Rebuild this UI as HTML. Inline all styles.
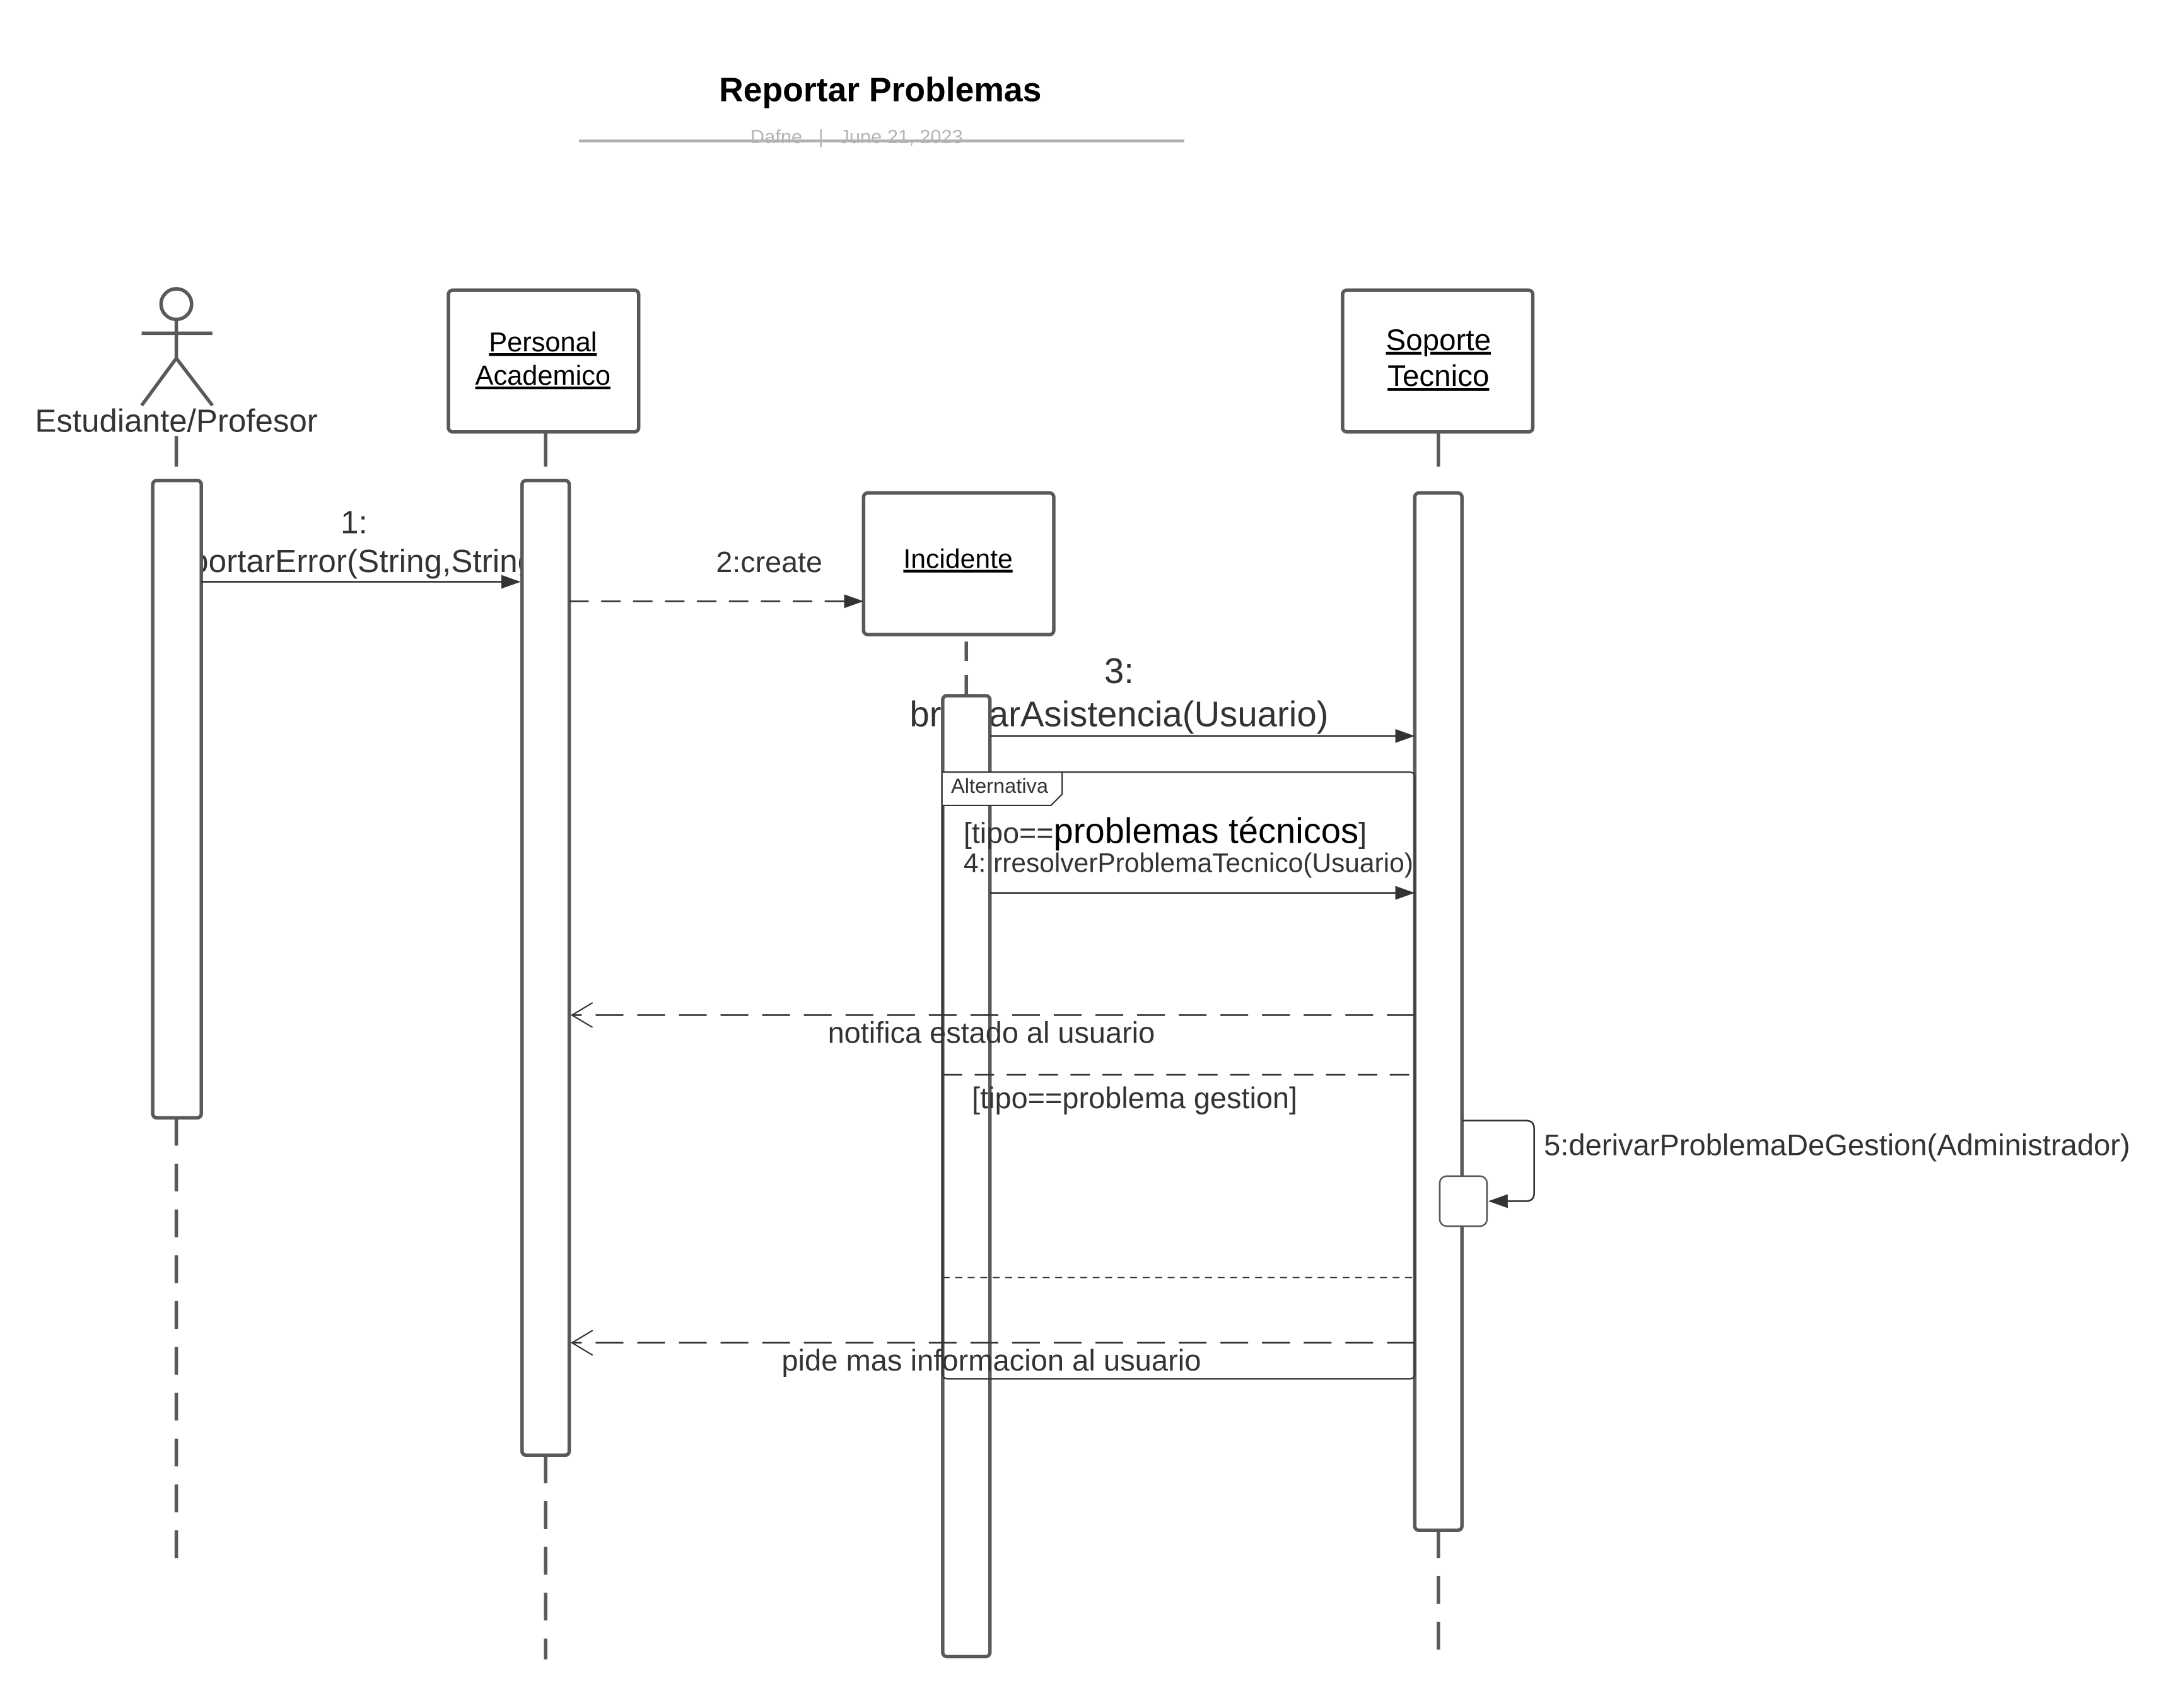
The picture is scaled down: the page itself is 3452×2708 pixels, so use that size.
<!DOCTYPE html>
<html><head><meta charset="utf-8"><style>
html,body{margin:0;padding:0;background:#fff;}
svg{display:block;}
text{font-family:"Liberation Sans",sans-serif;fill:#333;}
</style></head><body>
<svg width="3452" height="2708" viewBox="0 0 1568 1230" preserveAspectRatio="none" xmlns="http://www.w3.org/2000/svg">
<defs>
<marker id="fa" markerWidth="14" markerHeight="10" refX="13" refY="5" orient="auto" markerUnits="userSpaceOnUse">
<path d="M0,0 L14,5 L0,10 Z" fill="#333"/></marker>
<marker id="oa" markerWidth="16" markerHeight="18" refX="15" refY="9" orient="auto" markerUnits="userSpaceOnUse">
<path d="M0,0 L15,9 L0,18" fill="none" stroke="#333" stroke-width="1"/></marker>
</defs>
<rect width="1568" height="1230" fill="#fff"/>
<text x="634" y="73" text-anchor="middle" font-size="24.3" font-weight="bold" style="fill:#000">Reportar Problemas</text>
<line x1="417" y1="101.5" x2="853" y2="101.5" stroke="#b0b0b0" stroke-width="2"/>
<text x="617" y="103" text-anchor="middle" font-size="14" style="fill:#b5b5b5" xml:space="preserve">Dafne   |   June 21, 2023</text>

<g stroke="#595959" fill="none">
<circle cx="127" cy="219" r="11" stroke-width="2.5"/>
<line x1="127" y1="230" x2="127" y2="258" stroke-width="2.5"/>
<line x1="102" y1="240" x2="153" y2="240" stroke-width="2.5"/>
<line x1="127" y1="258" x2="102" y2="292" stroke-width="2.5"/>
<line x1="127" y1="258" x2="153" y2="292" stroke-width="2.5"/>
<line x1="127" y1="314" x2="127" y2="336" stroke-width="2.5"/>
<line x1="127" y1="805" x2="127" y2="1130" stroke-width="2.5" stroke-dasharray="20,13"/>
<line x1="393" y1="311" x2="393" y2="336" stroke-width="2.5"/>
<line x1="393" y1="1048" x2="393" y2="1195" stroke-width="2.5" stroke-dasharray="20,13"/>
<line x1="696" y1="462" x2="696" y2="500" stroke-width="2.5" stroke-dasharray="14,10"/>
<line x1="1036" y1="311" x2="1036" y2="336" stroke-width="2.5"/>
<line x1="1036" y1="1102" x2="1036" y2="1195" stroke-width="2.5" stroke-dasharray="20,13"/>
<rect x="323" y="209" width="137" height="102" rx="3" stroke-width="2.5" fill="#fff"/>
<rect x="622" y="355" width="137" height="102" rx="3" stroke-width="2.5" fill="#fff"/>
<rect x="967" y="209" width="137" height="102" rx="3" stroke-width="2.5" fill="#fff"/>
</g>
<text x="127" y="311" text-anchor="middle" font-size="23.2">Estudiante/Profesor</text>
<text x="391" y="253" text-anchor="middle" font-size="19.7" text-decoration="underline" style="fill:#000">Personal</text>
<text x="391" y="277" text-anchor="middle" font-size="19.7" text-decoration="underline" style="fill:#000">Academico</text>
<text x="690" y="409" text-anchor="middle" font-size="19.4" text-decoration="underline" style="fill:#000">Incidente</text>
<text x="1036" y="252" text-anchor="middle" font-size="21.6" text-decoration="underline" style="fill:#000">Soporte</text>
<text x="1036" y="278" text-anchor="middle" font-size="21.6" text-decoration="underline" style="fill:#000">Tecnico</text>

<text x="255" y="384" text-anchor="middle" font-size="23.3">1:</text>
<text x="255" y="412" text-anchor="middle" font-size="23.3">reportarError(String,String)</text>
<text x="806" y="492" text-anchor="middle" font-size="25.6">3:</text>
<text x="806" y="523" text-anchor="middle" font-size="25.6">brindarAsistencia(Usuario)</text>

<g stroke="#595959" stroke-width="2.5" fill="#fff">
<rect x="110" y="346" width="35" height="459" rx="3"/>
<rect x="376" y="346" width="34" height="702" rx="3"/>
<rect x="679" y="501" width="34" height="692" rx="3"/>
<rect x="1019" y="355" width="34" height="747" rx="3"/>
</g>

<g stroke="#333" stroke-width="1.2" fill="none">
<line x1="145" y1="419" x2="374" y2="419" marker-end="url(#fa)"/>
<line x1="410" y1="433" x2="621" y2="433" stroke-dasharray="14,9" marker-end="url(#fa)"/>
<line x1="713" y1="530" x2="1018" y2="530" marker-end="url(#fa)"/>
<line x1="713" y1="643" x2="1018" y2="643" marker-end="url(#fa)"/>
<line x1="1019" y1="731" x2="412" y2="731" stroke-dasharray="20,10" marker-end="url(#oa)"/>
<line x1="1019" y1="967" x2="412" y2="967" stroke-dasharray="20,10" marker-end="url(#oa)"/>
<path d="M679,556 L1015,556 Q1019,556 1019,560 L1019,989 Q1019,993 1015,993 L683,993 Q679,993 679,989 Z" stroke-width="1"/>
<path d="M679,556 L765,556 L765,572 L757,580 L679,580" stroke-width="1" fill="#fff"/>
<line x1="679" y1="774" x2="1019" y2="774" stroke-dasharray="14,9"/>
<line x1="679" y1="920" x2="1019" y2="920" stroke-dasharray="5,4" stroke-width="0.8"/>
<path d="M1053,807 L1099,807 Q1105,807 1105,813 L1105,859 Q1105,865 1099,865 L1073,865" marker-end="url(#fa)"/>
</g>
<rect x="1037" y="847" width="34" height="36" rx="5" fill="#fff" stroke="#595959" stroke-width="1.2"/>

<text x="554" y="412" text-anchor="middle" font-size="21.2">2:create</text>
<text x="685" y="571" font-size="14.8">Alternativa</text>
<text x="694" y="607" font-size="21.2">[tipo==<tspan font-size="25.5" style="fill:#000">problemas técnicos</tspan>]</text>
<text x="694" y="628" font-size="19.3">4: rresolverProblemaTecnico(Usuario)</text>
<text x="714" y="751" text-anchor="middle" font-size="21.3">notifica estado al usuario</text>
<text x="700" y="798" font-size="21.3">[tipo==problema gestion]</text>
<text x="1112" y="832" font-size="21.4">5:derivarProblemaDeGestion(Administrador)</text>
<text x="714" y="987" text-anchor="middle" font-size="21.4">pide mas informacion al usuario</text>
</svg>
</body></html>
